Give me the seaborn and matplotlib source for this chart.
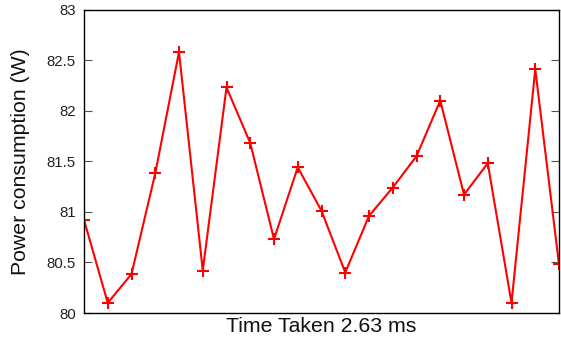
import matplotlib
matplotlib.use("Agg")
import matplotlib.pyplot as plt
import seaborn as sns
import pandas as pd

# Power readings per sample
sample_index = list(range(21))
power_w = [80.92, 80.10, 80.385, 81.38, 82.58, 80.42, 82.23, 81.68, 80.73, 81.44,
           81.01, 80.40, 80.96, 81.24, 81.55, 82.10, 81.17, 81.48, 80.10, 82.41, 80.48]
y_ticks = [80, 80.5, 81, 81.5, 82, 82.5, 83]
y_tick_labels = ["80", "80.5", "81", "81.5", "82", "82.5", "83"]

sns.set_theme(style="white")
plt.rcParams["font.family"] = ["Liberation Sans", "DejaVu Sans"]

df = pd.DataFrame({"sample": sample_index, "power": power_w})

fig = plt.figure(figsize=(5.61, 3.39), dpi=100)
ax = fig.add_axes([84 / 561, 1 - 313 / 339, (559 - 84) / 561, (313 - 9.5) / 339])

sns.lineplot(data=df, x="sample", y="power", ax=ax, color="red", linewidth=1.5,
             marker="+", markersize=8, markeredgewidth=1.5, markeredgecolor="red")

ax.set_xlim(0, 20)
ax.set_ylim(80, 83)
ax.set_xticks([])
ax.set_yticks(y_ticks)
ax.set_yticklabels(y_tick_labels)
ax.tick_params(axis="y", direction="in", length=6, width=0.8, color="#555555",
               labelsize=10.8, labelcolor="#222222", pad=6, right=True, left=True)

for s in ax.spines.values():
    s.set_color("black")
    s.set_linewidth(1.0)

ax.set_xlabel("Time Taken 2.63 ms", fontsize=15.3, labelpad=3, color="#111111")
ax.set_ylabel("Power consumption (W)", fontsize=15.3, labelpad=12, color="#111111")

fig.savefig("out.png", dpi=100)
